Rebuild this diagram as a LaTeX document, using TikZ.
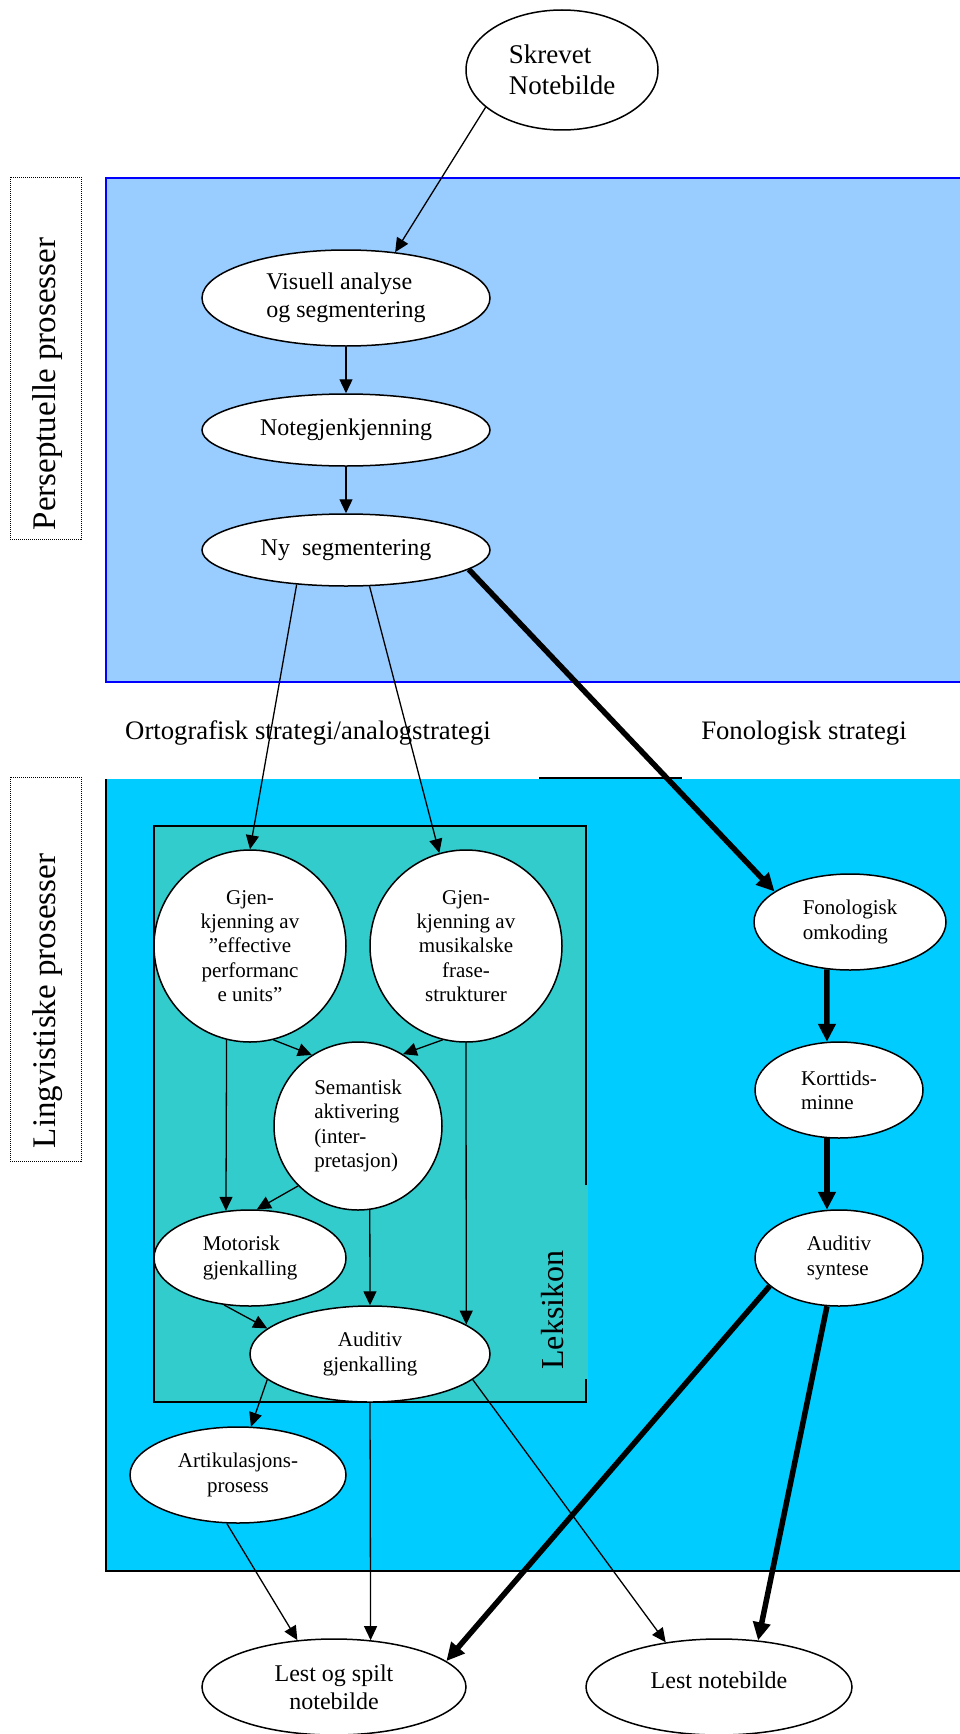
\documentclass[tikz,border=0pt]{standalone}
\usepackage{fontspec}
\setmainfont{Liberation Serif}
\usetikzlibrary{arrows.meta,shapes.geometric}
\definecolor{pblue}{RGB}{153,204,255}
\definecolor{lcyan}{RGB}{0,204,255}
\definecolor{lteal}{RGB}{51,204,204}
\tikzset{
  proc/.style={ellipse, draw, line width=1.5pt, fill=white, inner sep=0pt},
  fbig/.style={font=\fontsize{27}{31}\selectfont},
  fmid/.style={font=\fontsize{24}{27.6}\selectfont},
  fsml/.style={font=\fontsize{21}{24.2}\selectfont},
  thinarr/.style={line width=1.3pt, -{Triangle[length=14pt,width=13pt]}},
  thickarr/.style={line width=5.5pt, -{Triangle[length=18pt,width=17pt]}},
  sidebox/.style={densely dotted, line width=1pt},
  sidetext/.style={rotate=90, font=\fontsize{33}{38}\selectfont},
}
\begin{document}
\begin{tikzpicture}[x=1pt,y=-1pt]
\clip (0,0) rectangle (960,1734);
\useasboundingbox (0,0) rectangle (960,1734);
\fill[white] (0,0) rectangle (960,1734);

% regions
\filldraw[fill=pblue, draw=blue, line width=2pt] (106,178) rectangle (980,682);
\fill[lcyan] (106,779) rectangle (980,1571);
\draw[line width=2pt] (106,779) -- (106,1571) -- (980,1571);
\draw[line width=2pt] (539,778) -- (682,778);
\fill[lteal] (154,826) rectangle (588,1402);
\draw[line width=2pt] (586,1185) -- (586,826) -- (154,826) -- (154,1402) -- (586,1402) -- (586,1379);

% side boxes
\draw[sidebox] (10,177) rectangle (81,539);
\draw[sidebox] (10,777) rectangle (81,1161);
\node[sidetext] (perstext) at (48,384) {Perseptuelle prosesser};
\node[sidetext] (lingtext) at (48,1001) {Lingvistiske prosesser};
\node[rotate=90, font=\fontsize{32}{36}\selectfont] (leks) at (553,1310) {Leksikon};

% strategy labels
\node[font=\fontsize{26.7}{30}\selectfont] (orto) at (308,733) {Ortografisk strategi/analogstrategi};
\node[font=\fontsize{26.7}{30}\selectfont] (fonstr) at (804,733) {Fonologisk strategi};

% nodes
\node[proc, fbig, align=left, minimum width=192pt, minimum height=120pt] (skrevet) at (562,70) {Skrevet\\Notebilde};
\node[proc, fmid, align=left, minimum width=288pt, minimum height=96pt] (visuell) at (346,298) {Visuell analyse\\og segmentering};
\node[proc, fmid, align=left, minimum width=288pt, minimum height=72pt] (noteg) at (346,430) {Notegjenkjenning};
\node[proc, fmid, align=left, minimum width=288pt, minimum height=72pt] (ny) at (346,550) {Ny\ \ segmentering};

\node[proc, fsml, align=center, minimum width=192pt, minimum height=192pt] (gjen1) at (250,946) {Gjen-\\kjenning av\\”effective\\performanc\\e units”};
\node[proc, fsml, align=center, minimum width=192pt, minimum height=192pt] (gjen2) at (466,946) {Gjen-\\kjenning av\\musikalske\\frase-\\strukturer};
\node[proc, fsml, align=left, minimum width=168pt, minimum height=168pt] (sem) at (358,1126) {Semantisk\\aktivering\\(inter-\\pretasjon)};
\node[proc, fsml, align=left, minimum width=192pt, minimum height=96pt] (motor) at (250,1258) {Motorisk\\gjenkalling};
\node[proc, fsml, align=center, minimum width=240pt, minimum height=96pt] (audg) at (370,1354) {Auditiv\\gjenkalling};
\node[proc, fsml, align=center, minimum width=216pt, minimum height=96pt] (artik) at (238,1475) {Artikulasjons-\\prosess};

\node[proc, fsml, align=left, minimum width=192pt, minimum height=96pt] (fon) at (850,922) {Fonologisk\\omkoding};
\node[proc, fsml, align=left, minimum width=168pt, minimum height=96pt] (kort) at (839,1090) {Korttids-\\minne};
\node[proc, fsml, align=left, minimum width=168pt, minimum height=96pt] (synt) at (839,1258) {Auditiv\\syntese};

\node[proc, fmid, align=center, minimum width=264pt, minimum height=96pt] (lestspilt) at (334,1687) {Lest og spilt\\notebilde};
\node[proc, minimum width=266pt, minimum height=96pt] (lestnote) at (719,1687) {};
\node[fmid] (lestnotetext) at (719,1680) {Lest notebilde};

% connectors
\draw[thinarr] (skrevet.206) -- (visuell.43);
\draw[thinarr] (visuell.south) -- (noteg.north);
\draw[thinarr] (noteg.south) -- (ny.north);
\draw[thinarr] (ny.215) -- (gjen1.north);
\draw[thinarr] (ny.303) -- (gjen2.106);
\draw[thickarr] (ny.-9) -- (fon.158);

\draw[thinarr] (gjen1.284) -- (sem.123);
\draw[thinarr] (gjen2.256) -- (sem.58);
\draw[thinarr] (gjen1.256) -- (motor.117);
\draw[thinarr] (sem.225) -- (motor.82);
\draw[thinarr] (sem.278) -- (audg.north);
\draw[thinarr] (gjen2.south) -- (audg.17);
\draw[thinarr] (motor.241) -- (audg.166);
\draw[thinarr] (audg.194) -- (artik.75);
\draw[thinarr] (audg.south) -- (lestspilt.52);
\draw[thinarr] (artik.257) -- (lestspilt.128);
\draw[thinarr] (audg.346) -- (lestnote.140);

\draw[thickarr] (fon.244) -- (kort.104);
\draw[thickarr] (kort.256) -- (synt.104);
\draw[thickarr] (synt.202) -- (lestspilt.13);
\draw[thickarr] (synt.256) -- (lestnote.50);
\end{tikzpicture}
\end{document}
